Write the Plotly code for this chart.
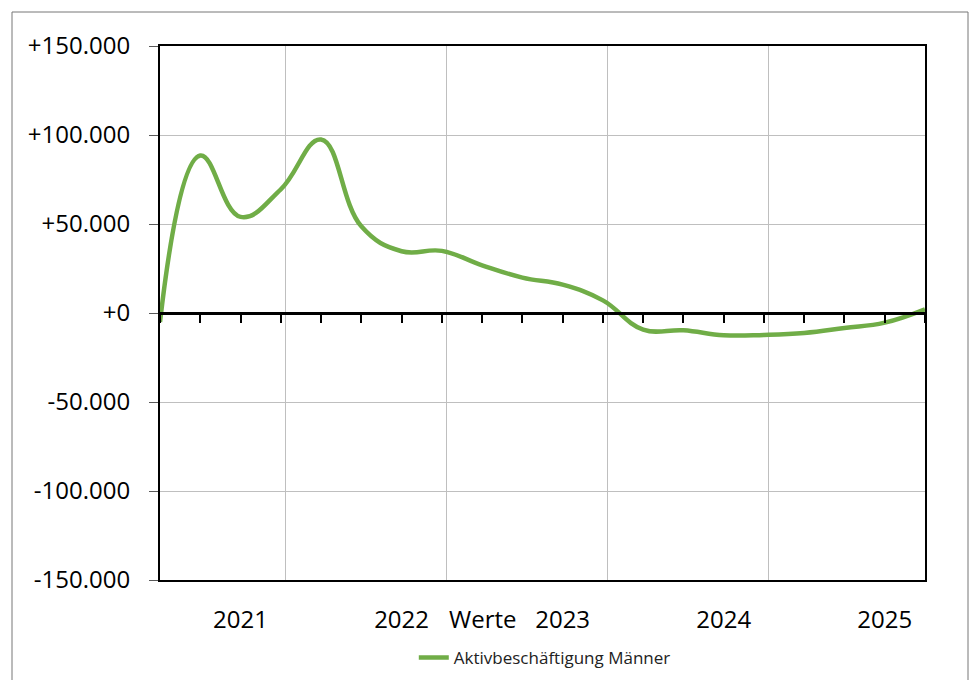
import plotly.graph_objects as go

# Quarterly change in active employment (men)
quarters = [
    "2020 Q3", "2020 Q4", "2021 Q1", "2021 Q2", "2021 Q3", "2021 Q4",
    "2022 Q1", "2022 Q2", "2022 Q3", "2022 Q4", "2023 Q1", "2023 Q2",
    "2023 Q3", "2023 Q4", "2024 Q1", "2024 Q2", "2024 Q3", "2024 Q4",
    "2025 Q1", "2025 Q2",
]
maenner = [
    -5000, 88500, 54000, 69500, 97500, 48700, 34700, 34900, 26800, 19900,
    15900, 7100, -9300, -9700, -12500, -12300, -11200, -8400, -5400, 2100,
]

year_ticks = ["2021 Q1", "2022 Q1", "2023 Q1", "2024 Q1", "2025 Q1"]
year_labels = ["2021", "2022", "2023", "2024", "2025"]

y_ticks = [150000, 100000, 50000, 0, -50000, -100000, -150000]
y_labels = ["+150.000", "+100.000", "+50.000", "+0", "-50.000", "-100.000", "-150.000"]

FONT = "Open Sans"
W, H = 970, 680
ML, MR, MT, MB = 160, 45, 46, 100

fig = go.Figure()
fig.add_trace(go.Scatter(
    x=list(range(len(quarters))), y=maenner,
    customdata=quarters,
    mode="lines",
    name="Aktivbeschäftigung Männer",
    line=dict(color="#70AD47", width=4.5, shape="spline", smoothing=1.2),
    hovertemplate="%{customdata}: %{y:,}<extra></extra>",
))

n = len(quarters)
tick_idx = [quarters.index(q) for q in year_ticks]

fig.update_layout(
    width=W, height=H,
    margin=dict(l=ML, r=MR, t=MT, b=MB, autoexpand=False),
    paper_bgcolor="white", plot_bgcolor="white",
    font=dict(family=FONT, color="black"),
    showlegend=True,
    legend=dict(
        orientation="h", x=0.503, xanchor="center", y=-0.146, yanchor="middle",
        font=dict(size=17, family=FONT, color="#222"),
        bgcolor="rgba(0,0,0,0)",
    ),
    xaxis=dict(
        range=[0, n - 1], tickvals=tick_idx, ticktext=year_labels,
        tickfont=dict(size=24, family=FONT), ticks="", ticklabelstandoff=17,
        showgrid=False, zeroline=False,
        showline=True, linecolor="black", linewidth=2, mirror=True,
    ),
    # year-boundary gridlines
    xaxis2=dict(
        overlaying="x", range=[0, n - 1], tick0=3.125, dtick=4,
        showgrid=True, gridcolor="#BFBFBF", gridwidth=1,
        showticklabels=False, ticks="", zeroline=False, showline=False,
        anchor="y", side="top",
    ),
    # category axis crossing at zero with quarter tick marks
    xaxis3=dict(
        overlaying="x", range=[0, n - 1], tickvals=list(range(n)),
        anchor="free", position=0.5, side="bottom",
        showline=True, linecolor="black", linewidth=2.5,
        ticks="outside", ticklen=8, tickwidth=2, tickcolor="black",
        showticklabels=False, showgrid=False, zeroline=False,
    ),
    yaxis=dict(
        range=[-150000, 150000], tickvals=y_ticks, ticktext=y_labels,
        tickfont=dict(size=24, family=FONT), ticks="outside", ticklen=9,
        tickcolor="#595959", tickwidth=1, ticklabelstandoff=14,
        showgrid=True, gridcolor="#BFBFBF", gridwidth=1, zeroline=False,
        showline=True, linecolor="black", linewidth=2, mirror=True,
    ),
)

# invisible traces to activate the overlay axes
fig.add_trace(go.Scatter(x=[0, n - 1], y=[None, None], xaxis="x2", showlegend=False, hoverinfo="skip"))
fig.add_trace(go.Scatter(x=[0, n - 1], y=[None, None], xaxis="x3", showlegend=False, hoverinfo="skip"))

# axis title placed between the year labels
fig.add_annotation(
    text="Werte", xref="paper", yref="paper",
    x=(482 - ML) / (W - ML - MR), y=-(618 - (H - MB)) / (H - MT - MB),
    xanchor="center", yanchor="middle", showarrow=False,
    font=dict(size=24, family=FONT, color="black"),
)

# outer chart frame
pw, ph = W - ML - MR, H - MT - MB
fig.add_shape(
    type="rect", xref="paper", yref="paper", layer="below",
    x0=(12 - ML) / pw, x1=(968 - ML) / pw,
    y0=((H - MB) - 690) / ph, y1=((H - MB) - 12) / ph,
    line=dict(color="#767676", width=1), fillcolor="rgba(0,0,0,0)",
)

fig.write_html("out.html")
